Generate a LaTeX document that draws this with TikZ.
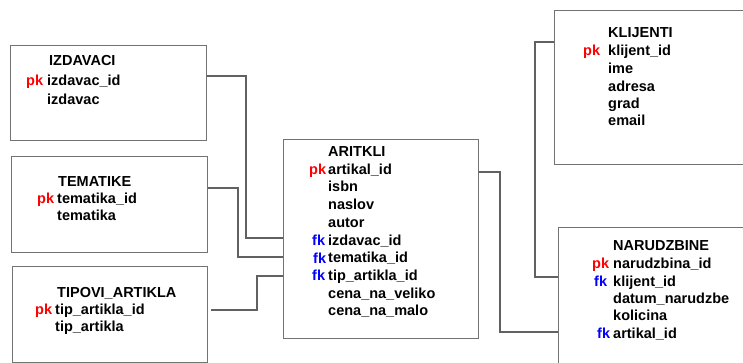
\documentclass[tikz,border=0pt]{standalone}
\usepackage{fontspec}
\setmainfont{Liberation Sans}
\begin{document}
\begin{tikzpicture}[x=1pt,y=-1pt,
  tbl/.style={draw=black!55,line width=1.3pt,fill=white,inner sep=0pt,anchor=north west},
  txt/.style={anchor=base west,inner sep=0pt,font=\fontsize{14.5}{17}\selectfont\bfseries,text=black},
  pkl/.style={txt,text=red},
  fkl/.style={txt,text=blue},
  link/.style={draw=black!62,line width=1.3pt}]
\useasboundingbox (0,0) rectangle (743,363);
\fill[white] (0,0) rectangle (743,363);
% tables
\node[tbl,minimum width=196pt,minimum height=95pt] (izd) at (10,45) {};
\node[tbl,minimum width=196pt,minimum height=96pt] (tem) at (11,156) {};
\node[tbl,minimum width=195pt,minimum height=96pt] (tip) at (12,266) {};
\node[tbl,minimum width=195pt,minimum height=199pt] (art) at (283,139) {};
\node[tbl,minimum width=200pt,minimum height=154pt] (kli) at (554,10) {};
\node[tbl,minimum width=200pt,minimum height=150pt] (nar) at (558,227) {};
% IZDAVACI
\node[txt] (izdT) at (49,66) {IZDAVACI};
\node[pkl] (izdP) at (26,86) {pk};
\node[txt] (izd1) at (47,86) {izdavac\_id};
\node[txt] (izd2) at (47,105) {izdavac};
% TEMATIKE
\node[txt] (temT) at (58,187) {TEMATIKE};
\node[pkl] (temP) at (37,204) {pk};
\node[txt] (tem1) at (57,204) {tematika\_id};
\node[txt] (tem2) at (57,221) {tematika};
% TIPOVI_ARTIKLA
\node[txt] (tipT) at (57,297) {TIPOVI\_ARTIKLA};
\node[pkl] (tipP) at (35,314) {pk};
\node[txt] (tip1) at (55,314) {tip\_artikla\_id};
\node[txt] (tip2) at (55,331) {tip\_artikla};
% ARITKLI
\node[txt] (artT) at (328,157) {ARITKLI};
\node[pkl] (artP) at (309,175) {pk};
\node[txt] (art1) at (328,175) {artikal\_id};
\node[txt] (art2) at (328,192) {isbn};
\node[txt] (art3) at (328,210) {naslov};
\node[txt] (art4) at (328,227) {autor};
\node[fkl] (artF1) at (312,245) {fk};
\node[txt] (art5) at (328,245) {izdavac\_id};
\node[fkl] (artF2) at (313,263) {fk};
\node[txt] (art6) at (328,262) {tematika\_id};
\node[fkl] (artF3) at (312,280) {fk};
\node[txt] (art7) at (328,280) {tip\_artikla\_id};
\node[txt] (art8) at (328,298) {cena\_na\_veliko};
\node[txt] (art9) at (328,315) {cena\_na\_malo};
% KLIJENTI
\node[txt] (kliT) at (608,38) {KLIJENTI};
\node[pkl] (kliP) at (583,56) {pk};
\node[txt] (kli1) at (608,56) {klijent\_id};
\node[txt] (kli2) at (608,74) {ime};
\node[txt] (kli3) at (608,92) {adresa};
\node[txt] (kli4) at (608,109) {grad};
\node[txt] (kli5) at (608,126) {email};
% NARUDZBINE
\node[txt] (narT) at (613,250) {NARUDZBINE};
\node[pkl] (narP) at (592,268) {pk};
\node[txt] (nar1) at (613,268) {narudzbina\_id};
\node[fkl] (narF1) at (594,286) {fk};
\node[txt] (nar2) at (613,286) {klijent\_id};
\node[txt] (nar3) at (613,303) {datum\_narudzbe};
\node[txt] (nar4) at (613,320) {kolicina};
\node[fkl] (narF2) at (597,338) {fk};
\node[txt] (nar5) at (613,338) {artikal\_id};
% connector bends
\coordinate (c1a) at (246,76);  \coordinate (c1b) at (246,238);
\coordinate (c2a) at (238,188); \coordinate (c2b) at (238,257);
\coordinate (c3s) at (211,310);
\coordinate (c3a) at (257,310); \coordinate (c3b) at (257,276);
\coordinate (c4a) at (500,172); \coordinate (c4b) at (500,332);
\coordinate (c5a) at (535,42);  \coordinate (c5b) at (535,277);
% connectors
\draw[link] (izd.east |- c1a) -- (c1a) -- (c1b) -- (art.west |- c1b);
\draw[link] (tem.east |- c2a) -- (c2a) -- (c2b) -- (art.west |- c2b);
\draw[link] (c3s) -- (c3a) -- (c3b) -- (art.west |- c3b);
\draw[link] (art.east |- c4a) -- (c4a) -- (c4b) -- (nar.west |- c4b);
\draw[link] (kli.west |- c5a) -- (c5a) -- (c5b) -- (nar.west |- c5b);
\end{tikzpicture}
\end{document}
